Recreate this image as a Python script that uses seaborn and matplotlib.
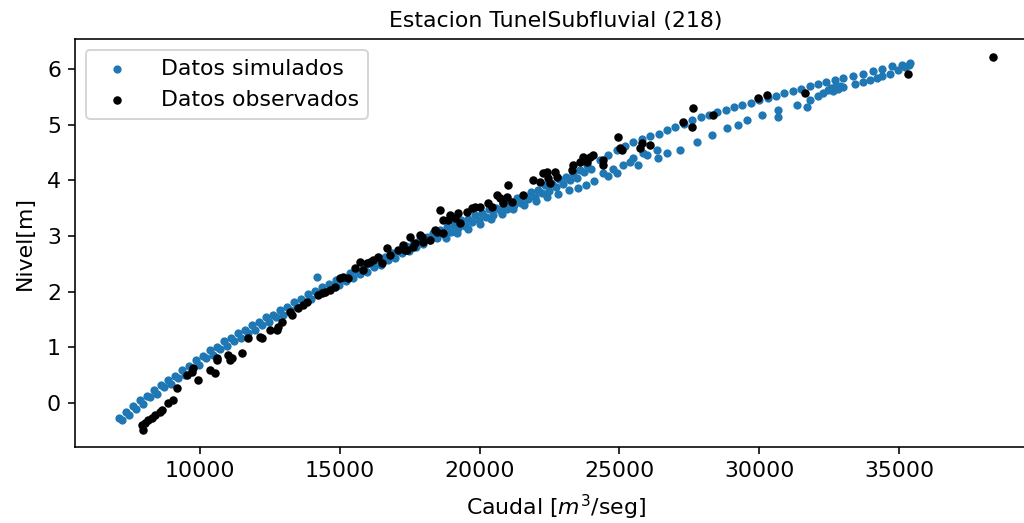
import matplotlib
matplotlib.use("Agg")
import matplotlib.pyplot as plt
import seaborn as sns
import pandas as pd

# ---- simulated data (several branches of the rating loop) ----
sim_a_x = [7100,7350,7600,7850,8100,8350,8600,8850,9100,9350,9600,9850,10100,10350,10600,10850,11100,11350,11600,11850,
           12100,12350,12600,12850,13100,13350,13600,13850,14100,14350,14600,14850,15100,15350,15600,15850,16100,16350,16600,16850,
           17100,17350,17600,17850,18100,18350,18600,18850,19100,19350,19600,19850,20100,20350,20600,20850,21100,21350,21600,21850,
           22100,22350,22600,22850,23100,23350,23600,23850]
sim_a_y = [-0.27,-0.17,-0.05,0.05,0.13,0.24,0.33,0.42,0.49,0.59,0.66,0.77,0.84,0.95,1.01,1.11,1.16,1.26,1.31,1.40,
           1.45,1.54,1.59,1.68,1.73,1.81,1.86,1.96,2.01,2.09,2.13,2.21,2.25,2.33,2.37,2.45,2.49,2.57,2.62,2.70,
           2.74,2.82,2.86,2.94,2.98,3.06,3.10,3.17,3.20,3.28,3.31,3.38,3.41,3.48,3.51,3.59,3.62,3.69,3.72,3.80,
           3.83,3.91,3.94,4.02,4.06,4.14,4.19,4.28]

sim_b_x = [7225,7475,7725,7975,8225,8475,8725,8975,9225,9475,9725,9975,10225,10475,10725,10975,11225,11475,11725,11975,
           12225,12475,12725,12975,13225,13475,13725,13975,14225,14475,14725,14975,15225,15475,15725,15975,16225,16475,16725,16975,
           17225,17475,17725,17975,18225,18475,18725,18975,19225,19475,19725,19975,20225,20475,20725,20975,21225,21475,21725,21975,
           22225,22475,22725,22975,23225,23475,23725,23975]
sim_b_y = [-0.30,-0.21,-0.10,-0.02,0.10,0.17,0.28,0.35,0.45,0.51,0.62,0.69,0.80,0.87,0.97,1.02,1.12,1.17,1.26,1.31,
           1.40,1.45,1.54,1.59,1.68,1.72,1.82,1.87,1.96,2.00,2.08,2.12,2.20,2.24,2.32,2.36,2.44,2.48,2.57,2.61,
           2.69,2.73,2.81,2.85,2.93,2.97,3.04,3.08,3.15,3.18,3.25,3.28,3.35,3.38,3.46,3.49,3.56,3.60,3.67,3.70,
           3.78,3.81,3.89,3.93,4.01,4.05,4.15,4.20]

sim_c_x = [18800,19200,19600,20000,20400,20800,21200,21600,22000,22400,22800,23200]
sim_c_y = [2.97,3.05,3.13,3.22,3.31,3.40,3.48,3.56,3.63,3.70,3.76,3.82]

sim_up_x = [24300,24600,24900,25200,25500,25800,26100,26400,26700,27000,27300,27600,27900,28200,28500,28800,29100,29400,29700,30000,
            30300,30600,30900,31200,31500,31800,32100,32400,32700,33000,33350,33700,34050,34400,34750,35100,35400]
sim_up_y = [4.36,4.45,4.54,4.62,4.69,4.74,4.79,4.84,4.90,4.96,5.02,5.08,5.13,5.18,5.22,5.27,5.31,5.35,5.39,5.44,
            5.48,5.52,5.57,5.61,5.65,5.69,5.73,5.77,5.80,5.84,5.88,5.92,5.97,6.01,6.05,6.08,6.11]

sim_low_x = [23500,23800,24100,24413,24600,24770,24916,25130,25380,25500,25667,25846,26000,26347,26383,26700,27170,27777,28313,28850,
             29240,29563,30100,30670,30670,31352,31710,31817,32100,32282,32450,32550,32640,32700,32800,32900,33000,33425,33700,33960,
             34200,34390,34680,34950,35200,35350]
sim_low_y = [3.86,3.92,3.99,4.13,4.08,4.20,4.13,4.27,4.33,4.40,4.27,4.49,4.45,4.54,4.40,4.50,4.54,4.69,4.81,4.94,
             5.00,5.08,5.17,5.13,5.26,5.35,5.31,5.44,5.52,5.57,5.62,5.66,5.60,5.68,5.64,5.70,5.67,5.73,5.77,5.80,
             5.84,5.87,5.92,5.98,6.03,6.07]

sim_extra_x = [14185]
sim_extra_y = [2.26]

# ---- observed data ----
obs_x = [7961,7925,8033,8140,8283,8390,8569,8641,8855,9034,
         9177,9535,9714,9750,9928,10358,10537,10608,11073,10608,
         11002,11145,11502,11717,12146,12218,12504,12754,12790,12933,
         13219,13291,13505,13684,13827,14221,14359,14471,14650,14829,
         15008,15115,15294,15544,15723,15831,15974,16081,16188,16367,
         16510,16689,16796,17082,17261,17404,17512,17619,17869,17977,
         18227,18477,18692,17333,17691,17941,18406,18585,18692,18871,
         18943,19121,19229,19300,19551,19729,19837,20016,20302,20445,
         20624,20731,20838,20981,21017,21160,21554,21911,22162,22269,
         22412,22448,22520,22698,22770,23306,23342,23593,23700,23843,
         23950,24058,24415,24415,24952,25023,25095,25739,26097,25811,
         27277,27599,27635,28350,29960,30282,31641,35325,38366]
obs_y = [-0.49,-0.40,-0.36,-0.31,-0.27,-0.22,-0.16,-0.13,0.00,0.05,
         0.27,0.50,0.56,0.63,0.41,0.59,0.54,0.77,0.77,0.81,
         0.86,0.81,0.90,1.17,1.19,1.17,1.31,1.31,1.36,1.45,
         1.63,1.58,1.71,1.76,1.81,1.94,1.98,1.99,2.03,2.08,
         2.24,2.26,2.24,2.42,2.53,2.39,2.51,2.53,2.57,2.62,
         2.51,2.78,2.66,2.75,2.84,2.75,2.98,2.80,3.02,2.89,
         2.93,3.07,3.05,2.75,2.87,2.98,3.11,3.47,3.29,3.29,
         3.38,3.32,3.41,3.23,3.43,3.50,3.52,3.52,3.59,3.52,
         3.73,3.68,3.59,3.70,3.91,3.61,3.73,4.00,3.97,4.13,
         4.15,4.04,3.95,4.15,4.06,4.18,4.27,4.33,4.42,4.33,
         4.42,4.45,4.36,4.27,4.78,4.58,4.54,4.58,4.63,4.67,
         5.05,4.96,5.30,5.17,5.48,5.53,5.57,5.91,6.21]

title = "Estacion TunelSubfluvial (218)"
xlabel = "Caudal [$m^3$/seg]"
ylabel = "Nivel[m]"
labels = ["Datos simulados", "Datos observados"]
xticks = [10000, 15000, 20000, 25000, 30000, 35000]
yticks = [0, 1, 2, 3, 4, 5, 6]

sim = pd.DataFrame({
    "Q": sim_a_x + sim_b_x + sim_c_x + sim_up_x + sim_low_x + sim_extra_x,
    "H": sim_a_y + sim_b_y + sim_c_y + sim_up_y + sim_low_y + sim_extra_y,
})
obs = pd.DataFrame({"Q": obs_x, "H": obs_y})

FS = 11
DPI = 144
fig = plt.figure(figsize=(1024 / DPI, 523 / DPI), dpi=DPI)
# axes run to the right edge of the picture (the original was cut there)
ax = fig.add_axes([75 / 1024, 76 / 523, 949 / 1024, 408 / 523])

sns.scatterplot(data=sim, x="Q", y="H", color="#1f77b4", s=17, linewidth=0,
                label=labels[0], ax=ax, zorder=2)
sns.scatterplot(data=obs, x="Q", y="H", color="black", s=18, linewidth=0,
                label=labels[1], ax=ax, zorder=3)

ax.set_xlim(5530, 39467)
ax.set_ylim(-0.79, 6.54)
ax.set_xticks(xticks)
ax.set_yticks(yticks)
ax.spines["right"].set_visible(False)
ax.set_title(title, fontsize=FS, x=0.507)
ax.set_xlabel(xlabel, fontsize=FS, labelpad=6, x=0.507)
ax.set_ylabel(ylabel, fontsize=FS, labelpad=6)
ax.tick_params(labelsize=FS)
ax.legend(loc="upper left", fontsize=FS, handletextpad=1.0)

fig.savefig("out.png", dpi=DPI)
